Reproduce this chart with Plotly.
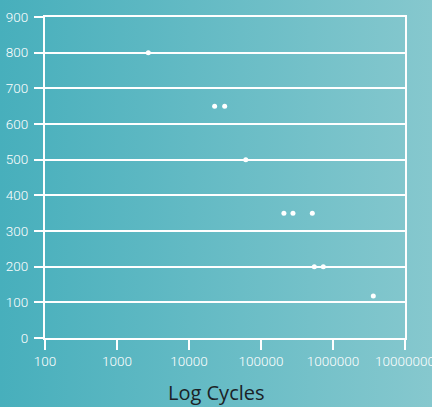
import plotly.graph_objects as go

# Stress level vs. fatigue life (cycles to failure)
cycles = [2720, 22700, 31300, 61400, 208000, 278000, 516000, 550000, 733000, 3630000]
stress = [800, 650, 650, 500, 350, 350, 350, 200, 200, 118]

x_tickvals = [100, 1000, 10000, 100000, 1000000, 10000000]
x_ticktext = ["100", "1000", "10000", "100000", "1000000", "10000000"]
y_tickvals = [0, 100, 200, 300, 400, 500, 600, 700, 800, 900]

W, H = 432, 407
ML, MR, MT, MB = 45, 27, 17, 69
PW, PH = W - ML - MR, H - MT - MB

gradient_svg = (
    "data:image/svg+xml;utf8,"
    "<svg xmlns='http://www.w3.org/2000/svg' width='432' height='407' preserveAspectRatio='none'>"
    "<defs><linearGradient id='g' x1='0' y1='0' x2='1' y2='0'>"
    "<stop offset='0' stop-color='%2347AFBC'/>"
    "<stop offset='1' stop-color='%2386C8CE'/>"
    "</linearGradient></defs>"
    "<rect width='432' height='407' fill='url(%23g)'/></svg>"
)

fig = go.Figure(
    go.Scatter(
        x=cycles,
        y=stress,
        mode="markers",
        marker=dict(color="white", size=5, line=dict(width=0)),
        hoverinfo="x+y",
    )
)

tick_font = dict(family="Roboto, Liberation Sans, sans-serif", size=13.5, color="white", weight=300)

fig.update_layout(
    width=W,
    height=H,
    margin=dict(l=ML, r=MR, t=MT, b=MB),
    paper_bgcolor="rgba(0,0,0,0)",
    plot_bgcolor="rgba(0,0,0,0)",
    showlegend=False,
    images=[
        dict(
            source=gradient_svg,
            xref="paper",
            yref="paper",
            x=-ML / PW,
            y=1 + MT / PH,
            sizex=W / PW,
            sizey=H / PH,
            sizing="stretch",
            xanchor="left",
            yanchor="top",
            layer="below",
        )
    ],
    annotations=[
        dict(
            text="Log Cycles",
            xref="paper",
            yref="paper",
            x=(W / 2 - ML) / PW,
            y=-(393 - (H - MB)) / PH,
            xanchor="center",
            yanchor="middle",
            showarrow=False,
            font=dict(family="Open Sans, Liberation Sans, sans-serif", size=20, color="#1b2226"),
        )
    ],
    xaxis=dict(
        type="log",
        range=[2, 7],
        tickvals=x_tickvals,
        ticktext=x_ticktext,
        ticks="outside",
        ticklen=10,
        tickwidth=2,
        tickcolor="white",
        tickfont=tick_font,
        ticklabeloverflow="allow",
        showgrid=False,
        showline=True,
        linecolor="white",
        linewidth=2,
        mirror=True,
        zeroline=False,
        automargin=False,
    ),
    yaxis=dict(
        range=[0, 900],
        tickvals=y_tickvals,
        ticks="outside",
        ticklen=9,
        tickwidth=2,
        tickcolor="white",
        tickfont=tick_font,
        showgrid=True,
        gridcolor="white",
        gridwidth=2,
        showline=True,
        linecolor="white",
        linewidth=2,
        mirror=True,
        zeroline=False,
        automargin=False,
        ticklabelstandoff=3,
    ),
)

fig.write_html("out.html")
